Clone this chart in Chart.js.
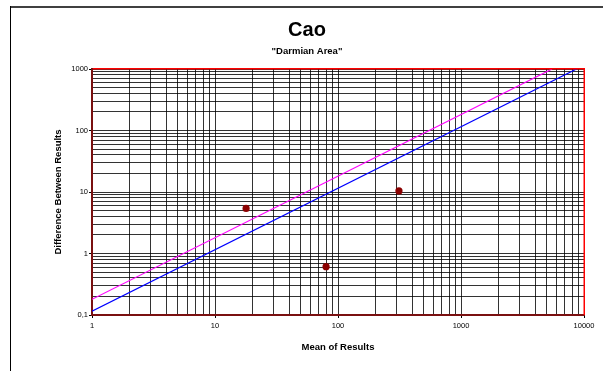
<!DOCTYPE html>
<html><head><meta charset="utf-8">
<script src="https://cdn.jsdelivr.net/npm/chart.js@4/dist/chart.umd.min.js"></script>
<style>html,body{margin:0;padding:0;background:#fff;overflow:hidden;}</style>
</head><body>
<canvas id="c" width="603" height="371" style="display:block;width:603px;height:371px"></canvas>
<script>
const chartTitle = 'Cao';
const chartSubtitle = '"Darmian Area"';
const xAxisTitle = 'Mean of Results';
const yAxisTitle = 'Difference Between Results';
const xTickValues = [1, 10, 100, 1000, 10000];
const xTickLabels = ['1', '10', '100', '1000', '10000'];
const yTickValues = [0.1, 1, 10, 100, 1000];
const yTickLabels = ['0,1', '1', '10', '100', '1000'];
const pointMeans = [17.9, 80, 313];
const pointDiffs = [5.4, 0.61, 10.4];
const upperLineMeans = [1, 5500];
const upperLineDiffs = [0.18, 1000];
const lowerLineMeans = [1, 8700];
const lowerLineDiffs = [0.115, 1000];

const FONT = "'Liberation Sans', Arial, sans-serif";

function toXY(xs, ys) { return xs.map((x, i) => ({x: x, y: ys[i]})); }
function isMajor(v) { const l = Math.log10(v); return Math.abs(l - Math.round(l)) < 1e-6; }
function logGrid(min, max) {
  const t = [];
  for (let e = Math.round(Math.log10(min)); e < Math.round(Math.log10(max)); e++) {
    const b = Math.pow(10, e);
    for (let m = 1; m < 10; m++) t.push({value: +(m * b).toPrecision(6)});
  }
  t.push({value: max});
  return t;
}
function labelFor(values, labels) {
  return function (value) {
    const i = values.findIndex(v => Math.abs(v - value) / v < 1e-6);
    return i >= 0 ? labels[i] : '';
  };
}

const framePlugin = {
  id: 'frame',
  afterDraw(chart) {
    const ctx = chart.ctx, a = chart.chartArea;
    ctx.save();
    ctx.fillStyle = '#ff0000';
    ctx.fillRect(a.left + 1, a.top - 1, a.right - a.left, 1.5);
    ctx.fillRect(a.right - 0.5, a.top - 1, 1.5, a.bottom - a.top + 1);
    ctx.fillStyle = '#404040';
    ctx.fillRect(10, 6, 593, 2);
    ctx.fillStyle = '#000';
    ctx.fillRect(10, 6, 1, 365);
    ctx.fillStyle = '#000';
    ctx.textAlign = 'center';
    ctx.textBaseline = 'middle';
    ctx.font = "bold 20px " + FONT;
    ctx.fillText(chartTitle, 307, 30);
    ctx.font = "bold 9.5px " + FONT;
    ctx.fillText(chartSubtitle, 307, 51);
    ctx.restore();
  }
};

new Chart(document.getElementById('c'), {
  type: 'scatter',
  data: {
    datasets: [
      {data: toXY(upperLineMeans, upperLineDiffs), showLine: true, borderColor: '#ff00ff', borderWidth: 1.2, pointRadius: 0, fill: false, order: 2},
      {data: toXY(lowerLineMeans, lowerLineDiffs), showLine: true, borderColor: '#0000ff', borderWidth: 1.2, pointRadius: 0, fill: false, order: 2},
      {data: toXY(pointMeans, pointDiffs), showLine: false, pointRadius: 3.6, backgroundColor: '#8b0000', borderColor: '#8b0000', borderWidth: 0, order: 1}
    ]
  },
  options: {
    responsive: false,
    animation: false,
    devicePixelRatio: 1,
    layout: {padding: {left: 10, top: 69, right: 19, bottom: 0}},
    plugins: {legend: {display: false}, tooltip: {enabled: false}, title: {display: false}},
    scales: {
      x: {
        type: 'logarithmic', min: 1, max: 10000,
        afterBuildTicks(s) { s.ticks = logGrid(1, 10000); },
        afterFit(s) { s.height = 56; },
        grid: {color: 'rgba(0,0,0,0.8)', lineWidth: 1, tickLength: 3,
               tickColor: c => (c.tick && isMajor(c.tick.value)) ? '#000' : 'rgba(0,0,0,0)'},
        border: {color: '#7a1010', width: 2},
        ticks: {autoSkip: false, maxRotation: 0, minRotation: 0, padding: 3, color: '#000',
                font: {family: FONT, size: 7.5}, callback: labelFor(xTickValues, xTickLabels)},
        title: {display: true, text: xAxisTitle, color: '#000', font: {family: FONT, size: 9.5, weight: 'bold'},
                padding: {top: 0, bottom: 18}}
      },
      y: {
        type: 'logarithmic', min: 0.1, max: 1000,
        afterBuildTicks(s) { s.ticks = logGrid(0.1, 1000); },
        afterFit(s) { s.width = 82; },
        grid: {color: 'rgba(0,0,0,0.8)', lineWidth: 1, tickLength: 3,
               tickColor: c => (c.tick && isMajor(c.tick.value)) ? '#000' : 'rgba(0,0,0,0)'},
        border: {color: '#7a1010', width: 2},
        ticks: {autoSkip: false, padding: 1, color: '#000',
                font: {family: FONT, size: 7.5}, callback: labelFor(yTickValues, yTickLabels)},
        title: {display: true, text: yAxisTitle, color: '#000', font: {family: FONT, size: 9.5, weight: 'bold'},
                padding: {top: 43, bottom: 0}}
      }
    }
  },
  plugins: [framePlugin]
});
</script>
</body></html>
